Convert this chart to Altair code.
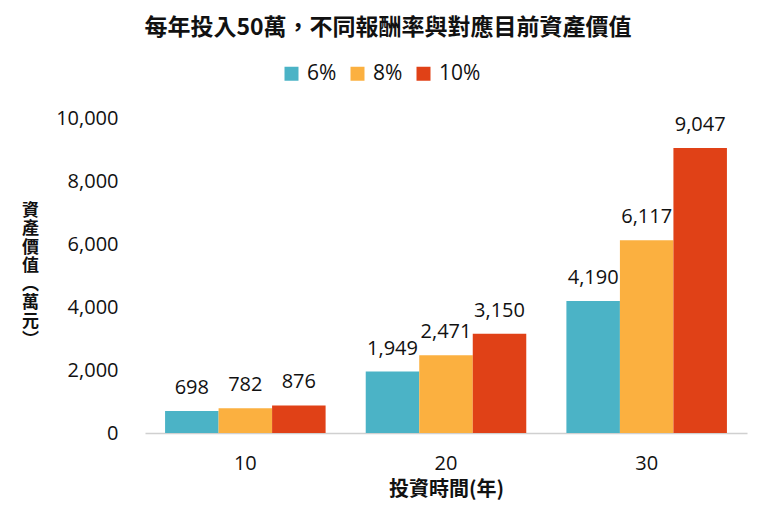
import altair as alt
import pandas as pd

years = ["10", "20", "30"]
rates = ["6%", "8%", "10%"]
values_6 = [698, 1949, 4190]
values_8 = [782, 2471, 6117]
values_10 = [876, 3150, 9047]
colors = ["#4BB3C6", "#FBB040", "#E04117"]
y_ticks = [0, 2000, 4000, 6000, 8000, 10000]

rows = []
for i, y in enumerate(years):
    for r, vals in zip(rates, [values_6, values_8, values_10]):
        rows.append({"year": y, "rate": r, "value": vals[i]})
df = pd.DataFrame(rows)

FONT = "Open Sans"
CJK = "Noto Sans CJK TC"

y_axis = alt.Axis(values=y_ticks, format=",.0f",
                  grid=False, domain=False, ticks=False,
                  labelFontSize=20, labelFont=FONT, labelColor="#111",
                  labelPadding=27,
                  title=["資", "產", "價", "值", "︵", "萬", "元", "︶"],
                  titleAngle=0, titleX=-115, titleY=84,
                  titleBaseline="top", titleAlign="center",
                  titleFont=CJK, titleFontSize=17, titleFontWeight="bold",
                  titleColor="#111", titleLineHeight=18.5)

base = alt.Chart(df).encode(
    x=alt.X("year:N", sort=years,
            scale=alt.Scale(paddingInner=0.2, paddingOuter=0.1),
            axis=alt.Axis(title="投資時間(年)", labelAngle=0, labelFontSize=20,
                          labelFont=FONT, labelColor="#111", labelPadding=20,
                          domainColor="#d0d0d0", domainWidth=1.5, ticks=False,
                          titleFont=CJK, titleFontSize=20, titleFontWeight="bold",
                          titleColor="#111", titlePadding=6)),
    xOffset=alt.XOffset("rate:N", sort=rates),
    y=alt.Y("value:Q", scale=alt.Scale(domain=[0, 10000]), axis=y_axis),
)

bars = base.mark_bar().encode(
    color=alt.Color("rate:N", sort=rates,
                    scale=alt.Scale(domain=rates, range=colors),
                    legend=alt.Legend(title=None, orient="none", direction="horizontal",
                                      legendX=136, legendY=-55,
                                      symbolType="square", symbolSize=196,
                                      symbolStrokeWidth=0, symbolOpacity=1,
                                      labelFontSize=21, labelFont=FONT,
                                      labelColor="#111", columnPadding=10,
                                      labelOffset=5)),
)

labels = base.mark_text(baseline="alphabetic", dy=-17, fontSize=20,
                        font=FONT, color="#111").encode(
    text=alt.Text("value:Q", format=","),
)

chart = (bars + labels).properties(
    width=602, height=315,
    title=alt.TitleParams("每年投入50萬，不同報酬率與對應目前資產價值",
                          font=CJK, fontSize=23, fontWeight="bold",
                          color="#111", anchor="middle", dx=-58, offset=23),
    autosize=alt.AutoSizeParams(type="none"),
    padding={"left": 137, "top": 110, "right": 5, "bottom": 75},
    background="white",
).configure_view(strokeWidth=0, stroke="transparent")

chart.save("out.html", embed_options={"renderer": "svg", "actions": False})
